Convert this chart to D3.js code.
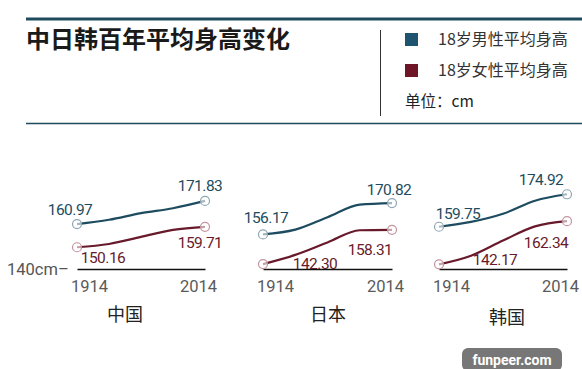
<!DOCTYPE html>
<html>
<head>
<meta charset="utf-8">
<script src="https://cdn.jsdelivr.net/npm/d3@7"></script>
<style>
  body { margin: 0; background: #fff; }
  text { font-family: Roboto, "Noto Sans CJK SC", sans-serif; }
  .cjk { font-family: "Noto Sans CJK SC", sans-serif; }
</style>
</head>
<body>
<div id="chart"></div>
<script>
// Data
var countries = ["中国", "日本", "韩国"];
var years = [1914, 1939, 1964, 1989, 2014];
var tickYears = [1914, 2014];
var maleHeights = [
  [160.97, 163.0, 166.1, 168.4, 171.83],
  [156.17, 158.4, 164.2, 170.1, 170.82],
  [159.75, 162.0, 165.8, 171.9, 174.92]
];
var femaleHeights = [
  [150.16, 151.7, 155.0, 158.3, 159.71],
  [142.30, 146.6, 152.4, 158.1, 158.31],
  [142.17, 146.2, 153.3, 159.9, 162.34]
];
var seriesNames = ["18岁男性平均身高", "18岁女性平均身高"];
var baseHeight = 140;

// Layout
var svgWidth = 582, svgHeight = 369;
var panels = [
  {x0: 77, x1: 205, labelX: 125, labelY: 321},
  {x0: 263, x1: 392, labelX: 328, labelY: 321},
  {x0: 439, x1: 567, labelX: 507, labelY: 324}
];
// label offsets [start, end] per country, relative to the point
var maleLabelOff = [
  [[-7, -9], [-5, -10]],
  [[3, -11], [-3, -8]],
  [[19, -8], [-26, -9]]
];
var femaleLabelOff = [
  [[26, 16], [-5, 21]],
  [[52, 5], [-22, 25]],
  [[56, 1], [-21, 27]]
];
var maleColor = "#1d4c60", femaleColor = "#681a2b";

var svg = d3.select("#chart").append("svg")
  .attr("width", svgWidth)
  .attr("height", svgHeight);

// Header
svg.append("line")
  .attr("x1", 26).attr("x2", svgWidth).attr("y1", 19).attr("y2", 19)
  .attr("stroke", "#1e4a5e").attr("stroke-width", 3);

svg.append("line")
  .attr("x1", 26).attr("x2", svgWidth).attr("y1", 123.5).attr("y2", 123.5)
  .attr("stroke", "#1e4a5e").attr("stroke-width", 1.5);

svg.append("text")
  .attr("class", "cjk")
  .attr("x", 26).attr("y", 48)
  .attr("font-size", "24px").attr("font-weight", "bold")
  .attr("fill", "#1a1a1a")
  .text("中日韩百年平均身高变化");

svg.append("line")
  .attr("x1", 380.5).attr("x2", 380.5).attr("y1", 30).attr("y2", 116)
  .attr("stroke", "#333").attr("stroke-width", 1);

var legend = svg.selectAll(".legend")
  .data(seriesNames)
  .enter()
  .append("g")
  .attr("transform", (d, i) => `translate(405, ${33 + i * 31})`);

legend.append("rect")
  .attr("width", 13).attr("height", 13)
  .attr("fill", (d, i) => i === 0 ? "#1f5470" : "#6e1528");

legend.append("text")
  .attr("class", "cjk")
  .attr("x", 33).attr("y", 11.5)
  .attr("font-size", "16px")
  .attr("fill", "#333")
  .text(d => d);

svg.append("text")
  .attr("class", "cjk")
  .attr("x", 405).attr("y", 107)
  .attr("font-size", "15.5px")
  .attr("fill", "#222")
  .text("单位：cm");

// Shared y scale
var y = d3.scaleLinear()
  .domain([baseHeight, 175])
  .range([269, 269 - 35 * 2.14]);

svg.append("text")
  .attr("x", 7).attr("y", y(baseHeight) + 5.5)
  .attr("font-size", "16.5px")
  .attr("fill", "#555")
  .text("140cm–");

// Panels
countries.forEach(function(country, ci) {
  var p = panels[ci];
  var x = d3.scaleLinear().domain([years[0], years[years.length - 1]]).range([p.x0, p.x1]);
  var g = svg.append("g");

  var axis = g.append("g")
    .attr("transform", `translate(0, ${y(baseHeight)})`)
    .call(d3.axisBottom(x).tickValues(tickYears).tickSize(0).tickFormat(d3.format("d")));
  axis.select(".domain").attr("stroke", "#111").attr("stroke-width", 1.3);
  axis.selectAll("text")
    .attr("font-family", "Roboto, sans-serif")
    .attr("font-size", "16.5px")
    .attr("fill", "#5a5a5a")
    .attr("dy", "1.2em")
    .attr("dx", (d, i) => i === 0 ? 12 : -7);

  var line = d3.line()
    .x((d, i) => x(years[i]))
    .y(d => y(d))
    .curve(d3.curveMonotoneX);

  var series = [
    {vals: maleHeights[ci], color: maleColor, ring: "#8ea6b3", off: maleLabelOff[ci]},
    {vals: femaleHeights[ci], color: femaleColor, ring: "#c4939d", off: femaleLabelOff[ci]}
  ];

  series.forEach(function(s) {
    g.append("path")
      .datum(s.vals)
      .attr("d", line)
      .attr("fill", "none")
      .attr("stroke", s.color)
      .attr("stroke-width", 2.2);

    var ends = [0, s.vals.length - 1];
    g.selectAll(null)
      .data(ends)
      .enter()
      .append("circle")
      .attr("cx", i => x(years[i]))
      .attr("cy", i => y(s.vals[i]))
      .attr("r", 4.5)
      .attr("fill", "#fff")
      .attr("fill-opacity", 0.6)
      .attr("stroke", s.ring)
      .attr("stroke-width", 1.2);

    g.selectAll(null)
      .data(ends)
      .enter()
      .append("text")
      .attr("x", (i, k) => x(years[i]) + s.off[k][0])
      .attr("y", (i, k) => y(s.vals[i]) + s.off[k][1])
      .attr("text-anchor", "middle")
      .attr("font-size", "15.5px")
      .attr("letter-spacing", "-0.5px")
      .attr("fill", s.color)
      .text(i => s.vals[i].toFixed(2));
  });

  g.append("text")
    .attr("class", "cjk")
    .attr("x", p.labelX).attr("y", p.labelY)
    .attr("text-anchor", "middle")
    .attr("font-size", "18px")
    .attr("fill", "#222")
    .text(country);
});

// Watermark
var wm = svg.append("g").attr("transform", "translate(462, 348)");
wm.append("rect")
  .attr("width", 100).attr("height", 23).attr("rx", 6)
  .attr("fill", "#777");
wm.append("text")
  .attr("x", 50).attr("y", 16.5)
  .attr("text-anchor", "middle")
  .attr("font-family", "'DejaVu Sans', sans-serif")
  .attr("font-weight", "bold")
  .attr("font-size", "14px")
  .attr("fill", "#fff")
  .text("funpeer.com");
</script>
</body>
</html>
